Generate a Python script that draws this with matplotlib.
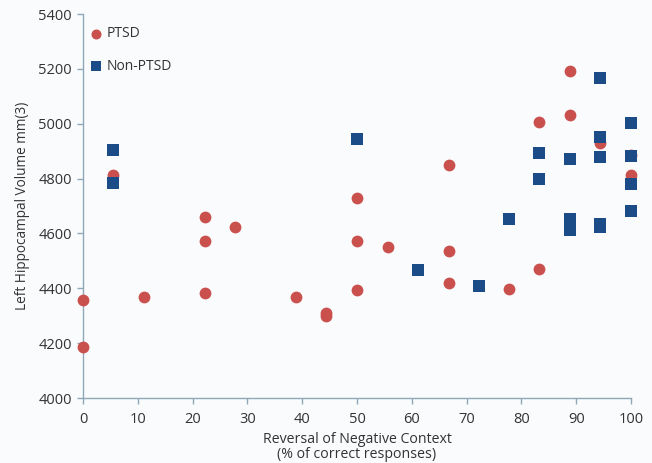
import matplotlib
matplotlib.use("Agg")
import matplotlib.pyplot as plt

# PTSD (red circles)
ptsd_x = [0, 0, 5.56, 11.1, 22.2, 22.2, 22.2, 27.8, 38.9, 44.4, 44.4,
          50, 50, 50, 55.6, 66.7, 66.7, 66.7, 77.8, 83.3, 83.3,
          88.9, 88.9, 94.4, 100, 100]
ptsd_y = [4357, 4187, 4812, 4369, 4659, 4571, 4383, 4622, 4369, 4310, 4300,
          4730, 4572, 4392, 4552, 4850, 4537, 4420, 4398, 4470, 5006,
          5193, 5031, 4928, 4886, 4812]

# Non-PTSD (blue squares)
non_x = [5.56, 5.56, 50, 61.1, 72.2, 77.8, 83.3, 83.3, 88.9, 88.9, 88.9,
         94.4, 94.4, 94.4, 94.4, 94.4, 100, 100, 100, 100]
non_y = [4904, 4785, 4943, 4467, 4408, 4651, 4893, 4797, 4871, 4651, 4612,
         5168, 4952, 4877, 4636, 4622, 5004, 4881, 4781, 4680]

xticks = [0, 10, 20, 30, 40, 50, 60, 70, 80, 90, 100]
yticks = [4000, 4200, 4400, 4600, 4800, 5000, 5200, 5400]

plt.rcParams['font.family'] = ['Open Sans', 'DejaVu Sans']
bg = '#fafbfd'
fig = plt.figure(figsize=(6.52, 4.63), dpi=100, facecolor=bg)
ax = fig.add_axes([83/652, 1-398/463, (631-83)/652, (398-14)/463])
ax.set_facecolor(bg)

red = '#c9504c'
blue = '#1c4c87'
ax.scatter(ptsd_x, ptsd_y, s=72, marker='o', color=red, label='PTSD',
           zorder=3, linewidths=0, clip_on=False)
ax.scatter(non_x, non_y, s=72, marker='s', color=blue, label='Non-PTSD',
           zorder=4, linewidths=0, clip_on=False)

ax.set_xlim(0, 100)
ax.set_ylim(4000, 5400)
ax.set_xticks(xticks)
ax.set_yticks(yticks)
spine_c = '#8fa8b8'
for s in ['top', 'right']:
    ax.spines[s].set_visible(False)
for s in ['left', 'bottom']:
    ax.spines[s].set_color(spine_c)
    ax.spines[s].set_linewidth(1.0)
ax.tick_params(axis='both', colors=spine_c, labelcolor='#333333',
               labelsize=10.5, length=4, width=1.0)
ax.tick_params(axis='x', pad=6)
ax.tick_params(axis='y', pad=4)

ax.set_ylabel('Left Hippocampal Volume mm(3)', fontsize=9.8, color='#333333',
              labelpad=6)
ax.set_xlabel('Reversal of Negative Context\n(% of correct responses)',
              fontsize=10.2, color='#333333', labelpad=4, linespacing=0.95)

leg = ax.legend(loc='upper left', bbox_to_anchor=(-0.005, 0.99), frameon=False,
                fontsize=10, labelspacing=1.25, handletextpad=0.3,
                handlelength=1.0, borderaxespad=0.2, markerscale=0.85,
                labelcolor='#333333')

fig.savefig('out.png', dpi=100, facecolor=bg)
